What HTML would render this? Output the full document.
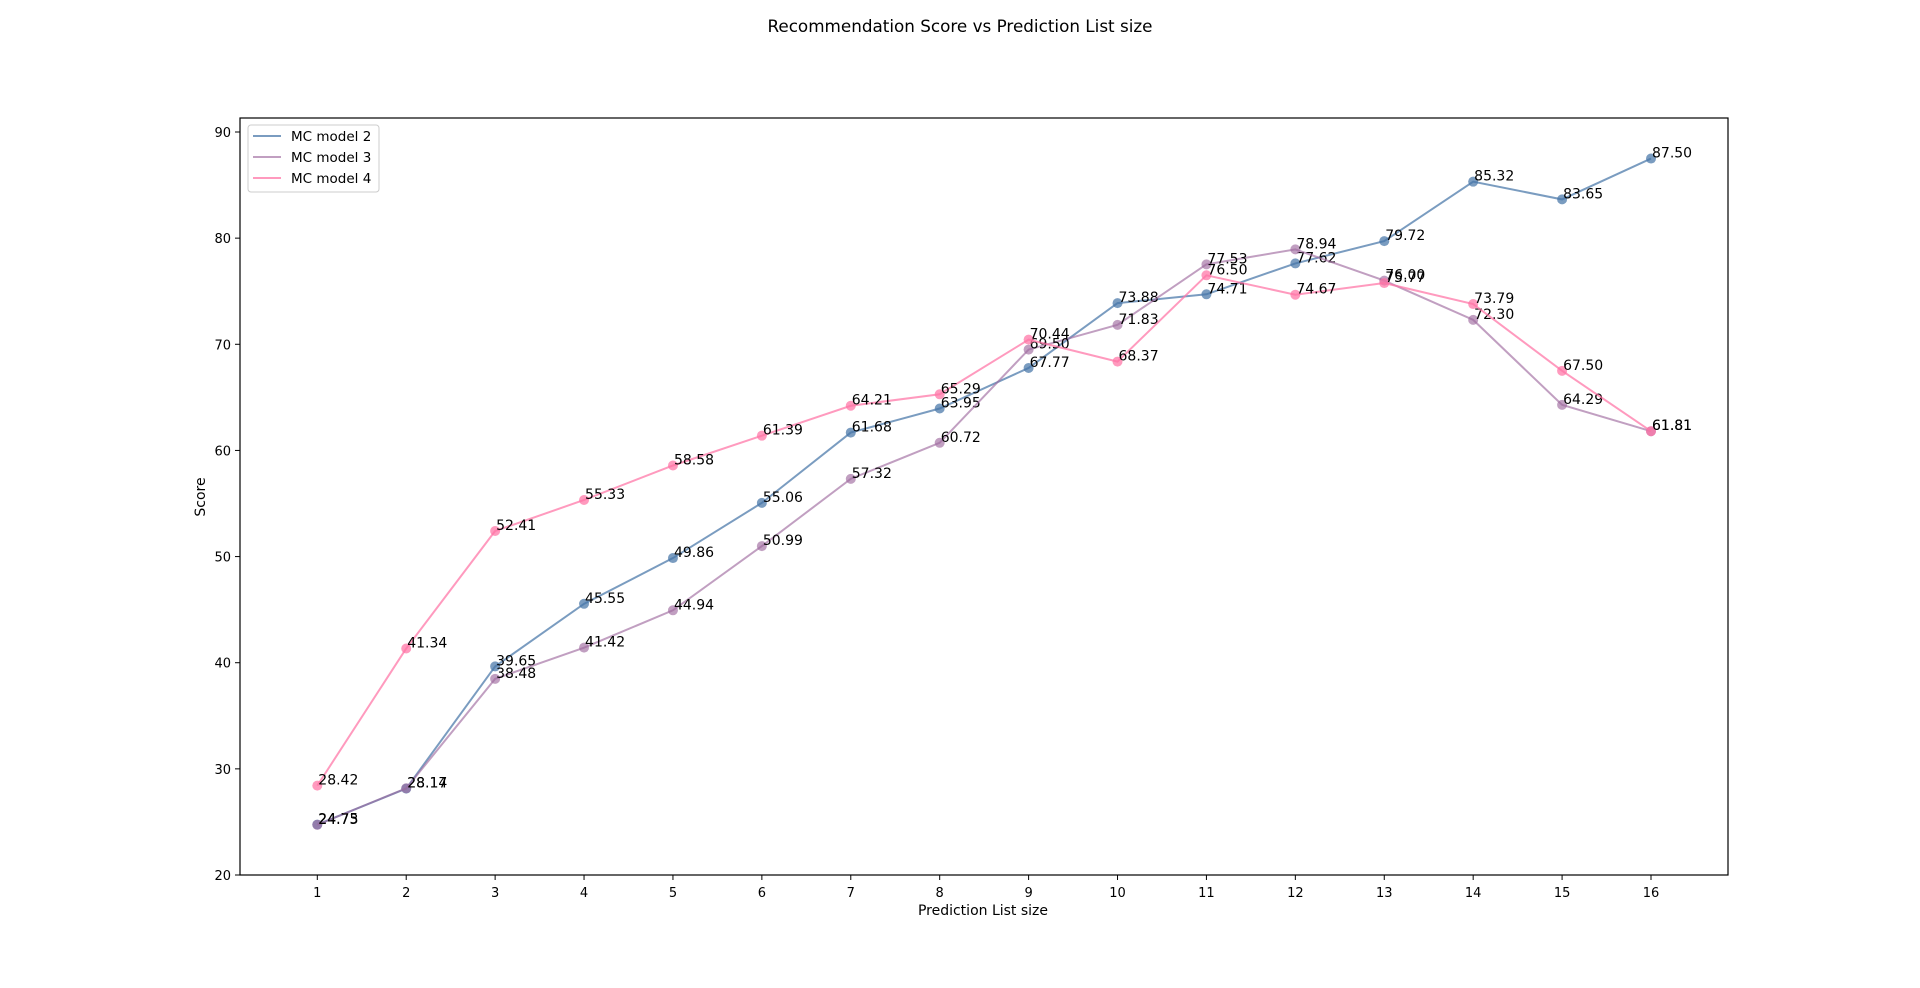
<!DOCTYPE html>
<html><head><meta charset="utf-8"><style>
html,body{margin:0;padding:0;background:#fff;}
svg text{font-family:"DejaVu Sans","Liberation Sans",sans-serif;fill:#000;}
</style></head><body>
<svg id="chart" width="1920" height="983" viewBox="0 0 1920 983" xmlns="http://www.w3.org/2000/svg">
<text x="960" y="32" text-anchor="middle" font-size="16.8">Recommendation Score vs Prediction List size</text>
<g id="grid"></g>
<g id="series"></g>
<rect x="240" y="118" width="1488" height="757" fill="none" stroke="#000" stroke-width="1.2"/>
<g id="axes"></g>
<text x="983" y="915" text-anchor="middle" font-size="14">Prediction List size</text>
<text transform="translate(205,497) rotate(-90)" text-anchor="middle" font-size="14">Score</text>
<g>
<rect x="248" y="125" width="131" height="67" rx="3" fill="#fff" stroke="#ccc" stroke-width="1"/>
<g id="legend"></g>
</g>
</svg>
<script>
const categories=[1,2,3,4,5,6,7,8,9,10,11,12,13,14,15,16];
const seriesNames=["MC model 2","MC model 3","MC model 4"];
const model2=[24.75,28.14,39.65,45.55,49.86,55.06,61.68,63.95,67.77,73.88,74.71,77.62,79.72,85.32,83.65,87.50];
const model3=[24.73,28.17,38.48,41.42,44.94,50.99,57.32,60.72,69.50,71.83,77.53,78.94,76.00,72.30,64.29,61.81];
const model4=[28.42,41.34,52.41,55.33,58.58,61.39,64.21,65.29,70.44,68.37,76.50,74.67,75.77,73.79,67.50,61.81];
const yTicks=[20,30,40,50,60,70,80,90];
const colors=["rgba(70,118,168,0.72)","rgba(160,108,160,0.65)","rgba(255,115,165,0.72)"];
const NS="http://www.w3.org/2000/svg";
function xs(v){return 317.3+(v-1)*(1651-317.3)/15;}
function ys(v){return 875-(v-20)*(875-132)/70;}
function mk(tag,attrs,parent){const e=document.createElementNS(NS,tag);for(const k in attrs)e.setAttribute(k,attrs[k]);parent.appendChild(e);return e;}
const axes=document.getElementById('axes');
categories.forEach(c=>{
  const t=mk('line',{x1:xs(c),x2:xs(c),y1:875,y2:880,stroke:'#000','stroke-width':1},axes);
  
  
  const l=mk('text',{x:xs(c),y:897,'text-anchor':'middle','font-size':13},axes);
  l.textContent=c;
  
  
});
yTicks.forEach(v=>{
  const t=mk('line',{x1:235,x2:240,y1:ys(v),y2:ys(v),stroke:'#000','stroke-width':1},axes);
  
  
  const l=mk('text',{x:231,y:ys(v)+5,'text-anchor':'end','font-size':13},axes);
  l.textContent=v;
  
  
});
const sg=document.getElementById('series');
[model2,model3,model4].forEach((data,si)=>{
  const g=mk('g',{},sg);
  
  
  const pts=data.map((v,i)=>xs(categories[i])+','+ys(v)).join(' ');
  const pl=mk('polyline',{points:pts,fill:'none',stroke:colors[si],'stroke-width':2},g);
  
  
  data.forEach((v,i)=>{
    const c=mk('circle',{cx:xs(categories[i]),cy:ys(v),r:5,fill:colors[si]},g);
    
    
    const t=mk('text',{x:xs(categories[i])+1,y:ys(v)-1,'font-size':14},g);
    t.textContent=v.toFixed(2);
    
    
  });
});
const lg=document.getElementById('legend');
seriesNames.forEach((n,i)=>{
  const y=136+i*21;
  const l=mk('line',{x1:253,x2:281,y1:y,y2:y,stroke:colors[i],'stroke-width':2},lg);
  
  
  const t=mk('text',{x:291,y:y+5,'font-size':13.5},lg);
  t.textContent=n;
  
  
});
</script>
</body></html>
